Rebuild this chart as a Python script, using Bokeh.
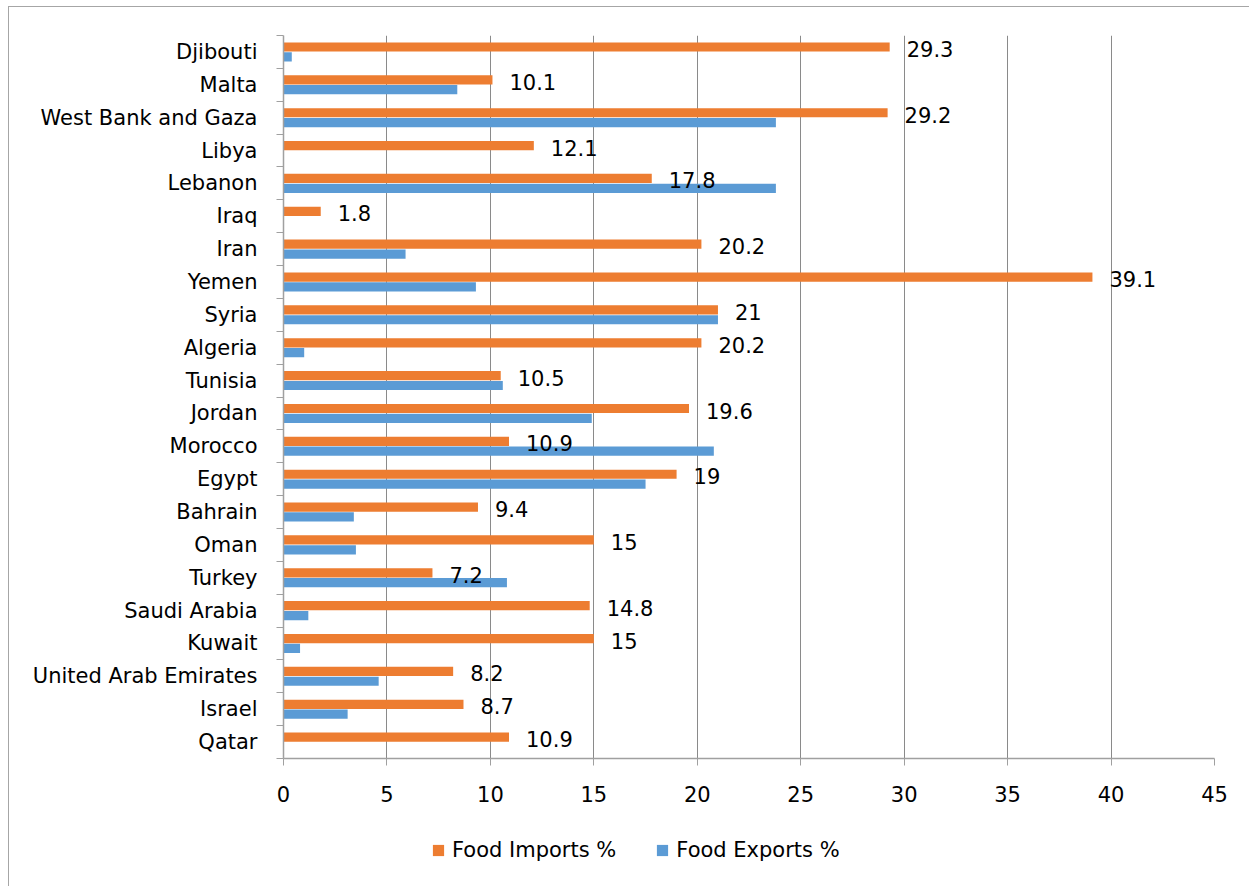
import math

from bokeh.core.properties import value
from bokeh.embed import file_html
from bokeh.layouts import column
from bokeh.models import ColumnDataSource, FixedTicker, Legend, LegendItem, Range1d
from bokeh.plotting import figure
from bokeh.resources import INLINE
from bokeh.transform import dodge

# Countries, listed top to bottom
countries = ["Djibouti", "Malta", "West Bank and Gaza", "Libya", "Lebanon", "Iraq",
             "Iran", "Yemen", "Syria", "Algeria", "Tunisia", "Jordan", "Morocco",
             "Egypt", "Bahrain", "Oman", "Turkey", "Saudi Arabia", "Kuwait",
             "United Arab Emirates", "Israel", "Qatar"]
food_imports = [29.3, 10.1, 29.2, 12.1, 17.8, 1.8, 20.2, 39.1, 21, 20.2, 10.5,
                19.6, 10.9, 19, 9.4, 15, 7.2, 14.8, 15, 8.2, 8.7, 10.9]
food_exports = [0.4, 8.4, 23.8, math.nan, 23.8, math.nan, 5.9, 9.3, 21.0, 1.0, 10.6,
                14.9, 20.8, 17.5, 3.4, 3.5, 10.8, 1.2, 0.8, 4.6, 3.1, math.nan]
x_ticks = [0, 5, 10, 15, 20, 25, 30, 35, 40, 45]

FONT = "DejaVu Sans"
FS = "21px"
ORANGE = "#ED7D31"
BLUE = "#5B9BD5"
GRID = "#8a8a8a"
AXIS = "#a0a0a0"

n = len(countries)
pos = [n - i - 0.5 for i in range(n)]
bounds = list(range(n + 1))

src = ColumnDataSource(dict(
    country=countries,
    pos=pos,
    imports=food_imports,
    exports=food_exports,
    label=[f"{v:g}" for v in food_imports],
))

W = 1240
H_MAIN = 813
H_LEG = 66
LEFT, RIGHT = 274, 35


def bars(fig, visible=True):
    r_imp = fig.hbar(y=dodge("pos", 0.15), right="imports", left=0, height=0.28,
                     source=src, fill_color=ORANGE, line_color=None, visible=visible)
    r_exp = fig.hbar(y=dodge("pos", -0.15), right="exports", left=0, height=0.28,
                     source=src, fill_color=BLUE, line_color=None, visible=visible)
    return r_imp, r_exp


p = figure(width=W, height=H_MAIN,
           x_range=Range1d(0, 45), y_range=Range1d(0, n),
           min_border_left=LEFT, min_border_right=RIGHT,
           min_border_top=28, min_border_bottom=62,
           output_backend="svg", toolbar_location=None)
p.outline_line_color = None

bars(p)

p.text(x="imports", y=dodge("pos", 0.15), text="label", source=src,
       x_offset=17, y_offset=2, text_align="left", text_baseline="middle",
       text_font=value(FONT), text_font_size=FS, text_color="black")

# x axis
xa = p.xaxis[0]
xa.ticker = FixedTicker(ticks=x_ticks)
xa.axis_line_color = AXIS
xa.axis_line_width = 1.5
xa.major_tick_line_color = AXIS
xa.major_tick_out = 7
xa.major_tick_in = 0
xa.minor_tick_line_color = None
xa.major_label_standoff = 20
xa.major_label_text_font = FONT
xa.major_label_text_font_size = FS
xa.major_label_text_color = "black"

# y axis: names at category centres, tick marks at category boundaries
ya = p.yaxis[0]
ya.ticker = FixedTicker(ticks=pos, minor_ticks=bounds)
ya.major_label_overrides = {y: c for y, c in zip(pos, countries)}
ya.axis_line_color = AXIS
ya.axis_line_width = 1.5
ya.major_tick_line_color = None
ya.major_tick_out = 0
ya.major_tick_in = 0
ya.minor_tick_line_color = AXIS
ya.minor_tick_out = 7
ya.minor_tick_in = 0
ya.major_label_standoff = 19
ya.major_label_text_font = FONT
ya.major_label_text_font_size = FS
ya.major_label_text_color = "black"

p.xgrid.ticker = FixedTicker(ticks=x_ticks)
p.xgrid.grid_line_color = GRID
p.ygrid.grid_line_color = None

# legend strip under the chart; its bar renderers are hidden, only swatches show
leg = figure(width=W, height=H_LEG,
             x_range=Range1d(0, 45), y_range=Range1d(0, n),
             x_axis_type=None, y_axis_type=None,
             min_border_left=LEFT, min_border_right=RIGHT,
             min_border_top=0, min_border_bottom=0,
             output_backend="svg", toolbar_location=None)
leg.outline_line_color = None
leg.grid.grid_line_color = None
li, le = bars(leg, visible=False)
legend = Legend(items=[LegendItem(label="Food Imports %", renderers=[li]),
                       LegendItem(label="Food Exports %", renderers=[le])],
                orientation="horizontal", location=(148, 24),
                glyph_width=14, glyph_height=14, label_standoff=7, spacing=39,
                padding=0, margin=0, border_line_color=None,
                background_fill_alpha=0,
                label_text_font=FONT, label_text_font_size=FS,
                label_text_color="black")
leg.add_layout(legend)

page = column(p, leg, margin=(6, 0, 0, 8),
              styles={"border-left": "1px solid #a6a6a6",
                      "border-top": "1px solid #a6a6a6",
                      "background-color": "white"})

open("out.html", "w").write(file_html(page, INLINE))
